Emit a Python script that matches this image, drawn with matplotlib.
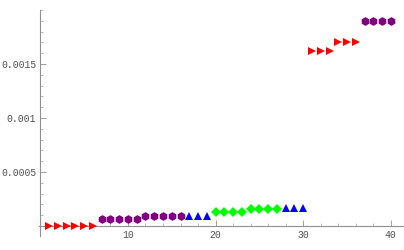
import numpy as np
import matplotlib
matplotlib.use("Agg")
import matplotlib.pyplot as plt
from matplotlib.ticker import MultipleLocator, FixedLocator, FuncFormatter

# red right-pointing triangles
red_x = [1, 2, 3, 4, 5, 6, 31, 32, 33, 34, 35, 36]
red_y = [0, 0, 0, 0, 0, 0, 0.00162, 0.00162, 0.00162, 0.00170, 0.00170, 0.00170]

# purple hexagons
purple_x = [7, 8, 9, 10, 11, 12, 13, 14, 15, 16, 37, 38, 39, 40]
purple_y = [0.000065, 0.000065, 0.000065, 0.000065, 0.000065,
            0.00009, 0.00009, 0.00009, 0.00009, 0.00009,
            0.0019, 0.0019, 0.0019, 0.0019]

# blue up triangles
blue_x = [17, 18, 19, 28, 29, 30]
blue_y = [0.00009, 0.00009, 0.00009, 0.00017, 0.00017, 0.00017]

# green diamonds
green_x = [20, 21, 22, 23, 24, 25, 26, 27]
green_y = [0.00013, 0.00013, 0.00013, 0.00013, 0.000157, 0.000157, 0.000157, 0.000157]

x_ticks = [10, 20, 30, 40]
y_ticks = [0.0005, 0.001, 0.0015]

fig = plt.figure(figsize=(4.04, 2.5), dpi=100)
fig.patch.set_facecolor('white')
ax = fig.add_axes([39 / 404, 14 / 250, 365 / 404, 226 / 250])

ax.set_xlim(-0.15, 41.5)
ax.set_ylim(-0.0000926, 0.002)

kw = dict(linestyle='none', clip_on=False, zorder=5, markeredgewidth=0)
ax.plot(red_x, red_y, marker='>', color='#ff0000', markersize=5.5, **kw)
ax.plot(purple_x, purple_y, marker='h', color='#800080', markersize=6.3, **kw)
ax.plot(blue_x, blue_y, marker='^', color='#0000ff', markersize=5.5, **kw)
ax.plot(green_x, green_y, marker='D', color='#00ff00', markersize=4.6, **kw)

# Mathematica-like axes through the origin
for s in ['top', 'right']:
    ax.spines[s].set_visible(False)
ax.spines['left'].set_position(('data', 0))
ax.spines['bottom'].set_position(('data', 0))
for s in ['left', 'bottom']:
    ax.spines[s].set_color('#909090')
    ax.spines[s].set_linewidth(0.8)

ax.xaxis.set_major_locator(FixedLocator(x_ticks))
ax.xaxis.set_minor_locator(MultipleLocator(2))
ax.yaxis.set_major_locator(FixedLocator(y_ticks))
ax.yaxis.set_minor_locator(MultipleLocator(0.0001))
ax.yaxis.set_major_formatter(FuncFormatter(lambda v, p: '%g' % v))

ax.tick_params(which='major', direction='in', length=4, width=0.6, color='#909090',
               labelsize=7, labelcolor='#505050', pad=3)
ax.tick_params(which='minor', direction='in', length=2, width=0.5, color='#a0a0a0')
for lab in ax.get_xticklabels() + ax.get_yticklabels():
    lab.set_family(['Liberation Mono', 'DejaVu Sans Mono'])

fig.savefig('out.png', dpi=100, facecolor='white')
